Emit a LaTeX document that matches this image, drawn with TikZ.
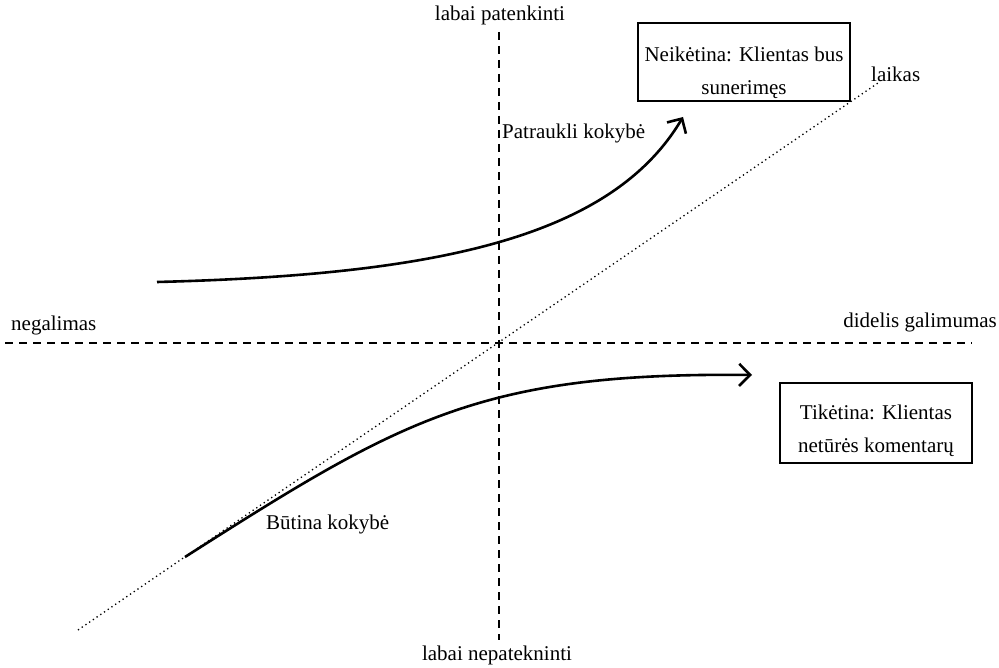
\documentclass[tikz,border=0pt]{standalone}
\usepackage{fontspec}
\setmainfont{Liberation Serif}
\usetikzlibrary{arrows.meta, positioning}
\tikzstyle{outcome} = [
  rectangle, draw=black, line width=1.4pt, align=center,
  inner sep=0pt
]
\tikzstyle{axislabel} = [
  inner sep=0pt
]
\tikzset{
  axis/.style={
    line width=1.3pt, dash pattern=on 8pt off 6pt
  },
  timeline/.style={
    line width=1.3pt, dash pattern=on 1.3pt off 3.2pt
  },
  trend/.style={
    line width=2.6pt,
    -{Straight Barb[length=11pt,width=22pt]}
  }
}

\begin{document}
\begin{tikzpicture}[
  x=1pt, y=-1pt,
  font=\fontsize{21}{33}\selectfont
]
\useasboundingbox (0,0) rectangle (999,668);

% ------------------------------------------------
% ASES
% ------------------------------------------------

\node[axislabel] (top) at (500,15) {labai patenkinti};
\node[axislabel] (bottom) at (497,655) {labai nepatekninti};
\node[axislabel, anchor=west] (left) at (11,325) {negalimas};
\node[axislabel, anchor=east] (right) at (997,322) {didelis galimumas};
\node[axislabel, anchor=west] (time) at (871,74) {laikas};

\coordinate (vtop) at (499,32);
\coordinate (vbot) at (499,640);
\coordinate (hleft) at (5,343);
\coordinate (hright) at (972,343);
\coordinate (tstart) at (78,630);
\coordinate (tend) at (878,83);

\draw[axis] (vtop) -- (vbot);
\draw[axis] (hleft) -- (hright);
\draw[timeline] (tstart) -- (tend);

% ------------------------------------------------
% LANGELIAI
% ------------------------------------------------

\node[outcome, minimum width=212pt, minimum height=78pt, text height=70pt] (n1) at (744,62) {%
  Neikėtina: Klientas bus\\
  sunerimęs
};

\node[outcome, minimum width=192pt, minimum height=80pt, text height=64pt] (n2) at (876,423) {%
  Tikėtina: Klientas\\
  netūrės komentarų
};

% ------------------------------------------------
% KREIVĖS
% ------------------------------------------------

\coordinate (a0) at (157,282);
\coordinate (a1) at (683,117);
\coordinate (b0) at (185,557);
\coordinate (b1) at (752,375);

\draw[trend] (a0) .. controls (430,275) and (610,240) .. (a1);
\draw[trend] (b0) .. controls (400,420) and (480,372) .. (b1);

\node[axislabel, anchor=west] (attr) at (502,133) {Patraukli kokybė};
\node[axislabel, anchor=west] (must) at (266,524) {Būtina kokybė};

\end{tikzpicture}
\end{document}
